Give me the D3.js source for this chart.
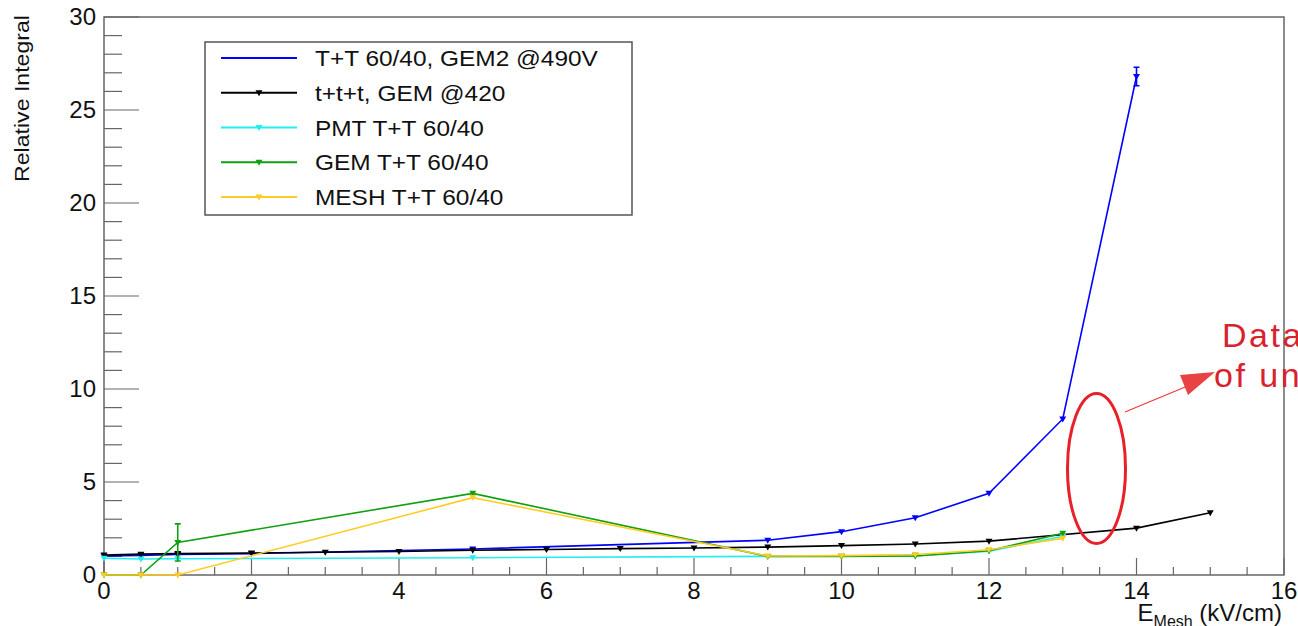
<!DOCTYPE html>
<html>
<head>
<meta charset="utf-8">
<script src="https://cdn.jsdelivr.net/npm/d3@7"></script>
<style>
  body { margin: 0; background: #fff; overflow: hidden; }
  svg { display: block; }
  text { font-family: "Liberation Sans", Arial, sans-serif; }
</style>
</head>
<body>
<svg id="chart"></svg>
<script>
// data
var blueX = [0, 0.5, 1, 2, 5, 9, 10, 11, 12, 13, 14];
var blueY = [1.02, 1.05, 1.1, 1.15, 1.4, 1.87, 2.33, 3.08, 4.39, 8.39, 26.8];
var blueErr = [0, 0, 0, 0, 0, 0, 0, 0, 0, 0, 0.5];

var blackX = [0, 0.5, 1, 2, 3, 4, 5, 6, 7, 8, 9, 10, 11, 12, 14, 15];
var blackY = [1.07, 1.12, 1.15, 1.18, 1.22, 1.26, 1.33, 1.37, 1.42, 1.45, 1.5, 1.58, 1.67, 1.82, 2.52, 3.35];

var pmtX = [0, 0.5, 1, 5, 9, 10, 11, 12, 13];
var pmtY = [0.9, 0.86, 0.87, 0.93, 1.0, 1.02, 1.02, 1.28, 2.08];

var gemX = [0, 0.5, 1, 5, 9, 10, 11, 12, 13];
var gemY = [0, 0, 1.75, 4.39, 1.0, 1.0, 1.02, 1.3, 2.24];
var gemErr = [0, 0, 1.0, 0, 0, 0, 0, 0, 0];

var meshX = [0, 0.5, 1, 5, 9, 10, 11, 12, 13];
var meshY = [0, 0, 0, 4.16, 1.02, 1.04, 1.1, 1.36, 1.97];

var legendLabels = ["T+T 60/40, GEM2 @490V", "t+t+t, GEM @420", "PMT T+T 60/40", "GEM T+T 60/40", "MESH T+T 60/40"];
var xTicks = [0, 2, 4, 6, 8, 10, 12, 14, 16];
var yTicks = [0, 5, 10, 15, 20, 25, 30];

var width = 1298, height = 626;
var svg = d3.select("#chart").attr("width", width).attr("height", height);

var x = d3.scaleLinear().domain([0, 16]).range([104, 1284]);
var y = d3.scaleLinear().domain([0, 30]).range([575, 17]);

var frameColor = "#666";

// minor / major ticks on x (pointing up from bottom)
svg.append("g").selectAll("line")
  .data(d3.range(0, 16.01, 0.5))
  .join("line")
  .attr("x1", d => x(d)).attr("x2", d => x(d))
  .attr("y1", y(0))
  .attr("y2", d => y(0) - (d % 2 === 0 ? 17 : 8))
  .attr("stroke", frameColor).attr("stroke-width", 1.2);

// ticks on y (pointing right from left)
svg.append("g").selectAll("line")
  .data(d3.range(0, 30.01, 1))
  .join("line")
  .attr("y1", d => y(d)).attr("y2", d => y(d))
  .attr("x1", x(0))
  .attr("x2", d => x(0) + (d % 5 === 0 ? 35 : 18))
  .attr("stroke", frameColor).attr("stroke-width", 1.2);

// frame
svg.append("rect")
  .attr("x", x(0)).attr("y", y(30))
  .attr("width", x(16) - x(0)).attr("height", y(0) - y(30))
  .attr("fill", "none").attr("stroke", frameColor).attr("stroke-width", 1.5);

// tick labels
svg.append("g").selectAll("text")
  .data(xTicks).join("text")
  .attr("x", d => x(d)).attr("y", 599)
  .attr("text-anchor", "middle")
  .attr("font-size", 24).attr("fill", "#111")
  .text(d => d);

svg.append("g").selectAll("text")
  .data(yTicks).join("text")
  .attr("x", 96).attr("y", d => y(d) + 8)
  .attr("text-anchor", "end")
  .attr("font-size", 24).attr("fill", "#111")
  .text(d => d);

// axis titles
svg.append("text")
  .attr("transform", "translate(29,15) rotate(-90)")
  .attr("text-anchor", "end")
  .attr("font-size", 21)
  .attr("textLength", 167).attr("lengthAdjust", "spacingAndGlyphs")
  .attr("fill", "#111")
  .text("Relative Integral");

var xt = svg.append("text")
  .attr("x", 1282).attr("y", 621)
  .attr("text-anchor", "end")
  .attr("font-size", 24).attr("fill", "#111");
xt.append("tspan").text("E");
xt.append("tspan").attr("font-size", 16).attr("dy", 6).text("Mesh");
xt.append("tspan").attr("dy", -6).text(" (kV/cm)");

// series
var series = [
  { xs: blueX, ys: blueY, err: blueErr, color: "#0000ff", legendMarker: false },
  { xs: blackX, ys: blackY, err: null, color: "#000000", legendMarker: true },
  { xs: pmtX, ys: pmtY, err: null, color: "#22eef0", legendMarker: true },
  { xs: gemX, ys: gemY, err: gemErr, color: "#10a010", legendMarker: true },
  { xs: meshX, ys: meshY, err: null, color: "#ffcc22", legendMarker: true }
];

var marker = "M-3.5,-2.5L3.5,-2.5L0,3.5Z";
var line = d3.line().x(d => x(d[0])).y(d => y(d[1]));

series.forEach(function (s) {
  var pts = s.xs.map((v, i) => [v, s.ys[i], s.err ? s.err[i] : 0]);
  var g = svg.append("g");
  g.append("path")
    .attr("d", line(pts))
    .attr("fill", "none")
    .attr("stroke", s.color)
    .attr("stroke-width", 1.6);
  // error bars
  g.selectAll("g.err")
    .data(pts.filter(p => p[2] > 0))
    .join("path")
    .attr("d", p =>
      "M" + x(p[0]) + "," + y(p[1] - p[2]) + "V" + y(p[1] + p[2]) +
      "M" + (x(p[0]) - 3) + "," + y(p[1] - p[2]) + "h6" +
      "M" + (x(p[0]) - 3) + "," + y(p[1] + p[2]) + "h6")
    .attr("stroke", s.color).attr("stroke-width", 1.6).attr("fill", "none");
  g.selectAll("path.m")
    .data(pts)
    .join("path")
    .attr("class", "m")
    .attr("d", marker)
    .attr("transform", p => "translate(" + x(p[0]) + "," + y(p[1]) + ")")
    .attr("fill", s.color);
});

// legend
var lg = svg.append("g");
lg.append("rect")
  .attr("x", 205).attr("y", 42).attr("width", 427).attr("height", 173)
  .attr("fill", "#fff").attr("stroke", "#555").attr("stroke-width", 1.5);
var rowY = d3.scalePoint().domain(d3.range(legendLabels.length)).range([58, 197]);
legendLabels.forEach(function (lab, i) {
  var s = series[i];
  var yy = rowY(i);
  lg.append("line")
    .attr("x1", 221).attr("x2", 297).attr("y1", yy).attr("y2", yy)
    .attr("stroke", s.color).attr("stroke-width", 1.8);
  if (s.legendMarker) {
    lg.append("path").attr("d", marker)
      .attr("transform", "translate(259," + yy + ")")
      .attr("fill", s.color);
  }
  // ROOT renders the legend text a bit wider than it is tall
  lg.append("text")
    .attr("transform", "translate(315," + (yy + 8) + ") scale(1.11,1)")
    .attr("font-size", 22).attr("fill", "#111")
    .text(lab);
});

// red annotation
var red = "#e8202a";
svg.append("ellipse")
  .attr("cx", 1096.5).attr("cy", 468.5).attr("rx", 29).attr("ry", 75)
  .attr("fill", "none").attr("stroke", red).attr("stroke-width", 3);
svg.append("line")
  .attr("x1", 1125).attr("y1", 412).attr("x2", 1190).attr("y2", 385)
  .attr("stroke", "#ee3b3b").attr("stroke-width", 1.3);
svg.append("path")
  .attr("d", "M1180,375L1215,372L1188,395Z")
  .attr("fill", "#e84242");
var note = svg.append("text")
  .attr("font-family", "Lato, 'Noto Sans', sans-serif")
  .attr("font-size", 34).attr("letter-spacing", 2.5).attr("fill", "#d8222e");
note.append("tspan").attr("x", 1222).attr("y", 347).text("Data points");
note.append("tspan").attr("x", 1214).attr("y", 387).text("of uncertainty");
</script>
</body>
</html>
